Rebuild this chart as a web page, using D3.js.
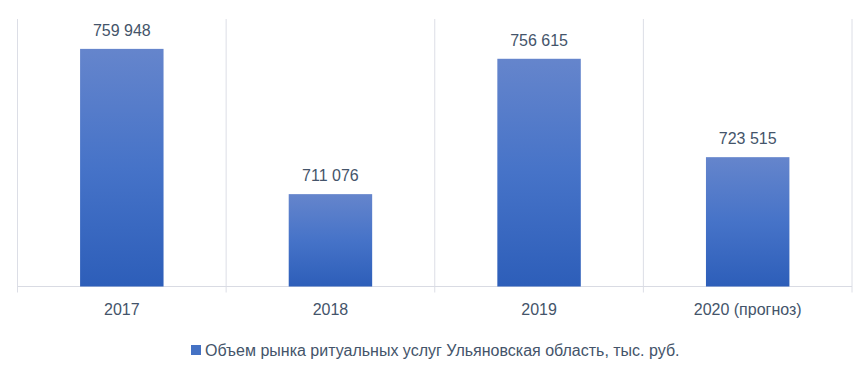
<!DOCTYPE html>
<html>
<head>
<meta charset="utf-8">
<script src="https://cdn.jsdelivr.net/npm/d3@7"></script>
<style>
  body { margin: 0; background: #fff; }
  text { font-family: "Liberation Sans", Arial, sans-serif; fill: #44546a; }
</style>
</head>
<body>
<div id="chart"></div>
<script>
var width = 866,
    height = 368;

var categories = ["2017", "2018", "2019", "2020 (прогноз)"];
var values = [759948, 711076, 756615, 723515];
var seriesName = "Объем рынка ритуальных услуг Ульяновская область, тыс. руб.";

var plotLeft = 17.5, plotRight = 852, plotTop = 19, plotBase = 286.5;

var format = function(v) { return d3.format(",d")(v).replace(/,/g, " "); };

var x = d3.scaleBand()
    .domain(categories)
    .range([plotLeft, plotRight])
    .paddingInner(0.6)
    .paddingOuter(0.3);

var y = d3.scaleLinear()
    .domain([680000, 770000])
    .range([plotBase, plotTop]);

var svg = d3.select("#chart").append("svg")
    .attr("width", width)
    .attr("height", height);

var grad = svg.append("defs").append("linearGradient")
    .attr("id", "barGrad")
    .attr("x1", 0).attr("y1", 0).attr("x2", 0).attr("y2", 1);
grad.append("stop").attr("offset", "0%").attr("stop-color", "#6585cc");
grad.append("stop").attr("offset", "50%").attr("stop-color", "#4673c8");
grad.append("stop").attr("offset", "100%").attr("stop-color", "#2d5eb9");

// vertical gridlines at band boundaries (extend slightly below as tick marks)
var bounds = categories.map(function(c) { return x(c) - x.step() * x.paddingOuter(); });
bounds.push(plotRight);
svg.append("g").selectAll("line")
    .data(bounds)
    .enter()
    .append("line")
        .attr("x1", d => d).attr("x2", d => d)
        .attr("y1", plotTop).attr("y2", plotBase + 6)
        .attr("stroke", "#dcdee6")
        .attr("stroke-width", 1);

// baseline
svg.append("line")
    .attr("x1", plotLeft).attr("x2", plotRight)
    .attr("y1", plotBase).attr("y2", plotBase)
    .attr("stroke", "#d9dbe3")
    .attr("stroke-width", 1.2);

svg.append("g").selectAll("rect")
    .data(values)
    .enter()
    .append("rect")
        .attr("x", (d, i) => x(categories[i]))
        .attr("y", d => y(d))
        .attr("width", x.bandwidth())
        .attr("height", d => plotBase - y(d))
        .attr("fill", "url(#barGrad)");

svg.append("g").selectAll("text")
    .data(values)
    .enter()
    .append("text")
        .attr("x", (d, i) => x(categories[i]) + x.bandwidth() / 2)
        .attr("y", d => y(d) - 13)
        .attr("text-anchor", "middle")
        .style("font-size", "16px")
        .text(d => format(d));

svg.append("g").selectAll("text")
    .data(categories)
    .enter()
    .append("text")
        .attr("x", d => x(d) + x.bandwidth() / 2)
        .attr("y", 315)
        .attr("text-anchor", "middle")
        .style("font-size", "16px")
        .text(d => d);

var legend = svg.append("g");
legend.append("rect")
    .attr("x", 191).attr("y", 345)
    .attr("width", 10).attr("height", 10)
    .attr("fill", "#4472c4");
legend.append("text")
    .attr("x", 205)
    .attr("y", 355.5)
    .style("font-size", "16px")
    .text(seriesName);
</script>
</body>
</html>
